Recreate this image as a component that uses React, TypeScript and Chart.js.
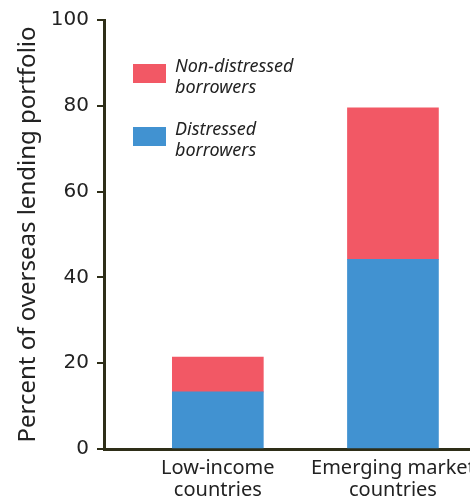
import React, { useEffect, useRef } from "react";
import { Chart, registerables } from "chart.js";

Chart.register(...registerables);

const categories: string[][] = [["Low-income", "countries"], ["Emerging market", "countries"]];
const categoryPositions = [0, 1];
const distressed = [13.3, 44.2];
const nonDistressed = [8.1, 35.3];
const seriesLabels = [["Non-distressed", "borrowers"], ["Distressed", "borrowers"]];
const yTicks = [0, 20, 40, 60, 80, 100];

const AXIS = "#2e2e18";
const RED = "#f25865";
const BLUE = "#4192d1";

const legendPlugin = {
  id: "insideLegend",
  afterDraw(chart: any) {
    const ctx = chart.ctx;
    const area = chart.chartArea;
    const items = [
      { color: RED, text: seriesLabels[0] },
      { color: BLUE, text: seriesLabels[1] },
    ];
    ctx.save();
    ctx.font = "italic 18px 'Noto Sans'";
    ctx.textBaseline = "middle";
    items.forEach((it, i) => {
      const x = area.left + 29;
      const y = area.top + 44 + i * 63;
      ctx.fillStyle = it.color;
      ctx.fillRect(x, y, 33, 19);
      ctx.fillStyle = "#222";
      it.text.forEach((t, j) => {
        ctx.fillText(t, x + 42, y + 3 + j * 21);
      });
    });
    ctx.restore();
  },
};

export default function App() {
  const ref = useRef<HTMLCanvasElement>(null);
  useEffect(() => {
    document.body.style.margin = "0";
    const chart = new Chart(ref.current!, {
      type: "bar",
      data: {
        datasets: [
          {
            label: "Distressed borrowers",
            data: categoryPositions.map((x, i) => ({ x, y: distressed[i] })),
            backgroundColor: BLUE,
            barThickness: 91,
          },
          {
            label: "Non-distressed borrowers",
            data: categoryPositions.map((x, i) => ({ x, y: nonDistressed[i] })),
            backgroundColor: RED,
            barThickness: 91,
          },
        ],
      },
      options: {
        animation: false,
        responsive: false,
        layout: { padding: { top: 10, right: 0, left: 0, bottom: 0 } },
        plugins: { legend: { display: false }, tooltip: { enabled: false } },
        scales: {
          x: {
            type: "linear",
            stacked: true,
            offset: false,
            min: -0.65,
            max: 1.44,
            grid: { display: false, drawTicks: false, offset: false },
            border: { display: true, color: AXIS, width: 3 },
            afterBuildTicks: (scale: any) => {
              scale.ticks = categoryPositions.map((v) => ({ value: v }));
            },
            afterFit: (scale: any) => {
              scale.height = 49;
              scale.paddingLeft = 0;
              scale.paddingRight = 0;
            },
            ticks: {
              color: "#222",
              font: { family: "'Noto Sans'", size: 20, lineHeight: 1.1 },
              padding: 8,
              maxRotation: 0,
              autoSkip: false,
              callback: (v: any) => categories[categoryPositions.indexOf(Number(v))] as any,
            },
          },
          y: {
            stacked: true,
            min: 0,
            max: 100,
            afterBuildTicks: (scale: any) => {
              scale.ticks = yTicks.map((v) => ({ value: v }));
            },
            afterFit: (scale: any) => {
              scale.width = 104;
            },
            grid: { drawOnChartArea: false, drawTicks: true, tickLength: 7, color: AXIS, lineWidth: 2 },
            border: { display: true, color: AXIS, width: 3 },
            ticks: {
              color: "#222",
              font: { family: "'DejaVu Sans'", size: 20 },
              padding: 8,
            },
            title: {
              display: true,
              text: "Percent of overseas lending portfolio",
              color: "#222",
              font: { family: "'Noto Sans'", size: 24 },
              padding: { top: 14, bottom: 0 },
            },
          },
        },
      },
      plugins: [legendPlugin],
    });
    return () => chart.destroy();
  }, []);
  return (
    <div style={{ position: "absolute", left: 0, top: 0, width: 470, height: 498, background: "#fff" }}>
      <canvas ref={ref} width={470} height={498} />
    </div>
  );
}
